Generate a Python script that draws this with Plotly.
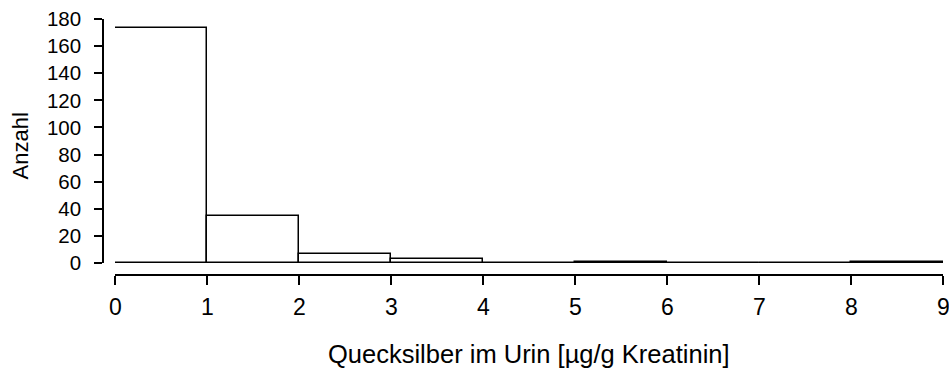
import plotly.graph_objects as go

# Histogram of urinary mercury, bins of 1 µg/g creatinine
bin_left = [0, 1, 2, 3, 4, 5, 6, 7, 8]
counts = [173, 35, 7, 3, 0, 1, 0, 0, 1]
x_ticks = [0, 1, 2, 3, 4, 5, 6, 7, 8, 9]
y_ticks = [0, 20, 40, 60, 80, 100, 120, 140, 160, 180]
x_title = "Quecksilber im Urin [µg/g Kreatinin]"
y_title = "Anzahl"

W, H = 949, 372
L, R, T, B = 103, 6, 19, 97
plot_w = W - L - R
plot_h = H - T - B
gap = 12  # offset between data area and axis lines

font = "Liberation Sans, Arial, sans-serif"

fig = go.Figure()
fig.add_trace(go.Bar(
    x=[b + 0.5 for b in bin_left],
    y=counts,
    width=[1] * len(bin_left),
    marker=dict(color="white", line=dict(color="black", width=1.5)),
    hoverinfo="x+y",
))

fig.add_shape(type="line", xref="x", yref="y", x0=0, x1=9, y0=0, y1=0,
              line=dict(color="black", width=1.5), layer="above")

# x tick labels as annotations so the last one may run to the page edge
annotations = [
    dict(text=str(v), xref="x", yref="paper", x=v, y=-32 / plot_h,
         xanchor="center", yanchor="middle", showarrow=False,
         font=dict(size=23))
    for v in x_ticks
]
annotations += [
    dict(text=x_title, xref="x", yref="paper", x=4.5, y=-79 / plot_h,
         xanchor="center", yanchor="middle", showarrow=False,
         font=dict(size=25.5)),
    dict(text=y_title, xref="paper", yref="paper", x=(19.5 - L) / plot_w,
         y=(plot_h - (146 - T)) / plot_h, textangle=-90,
         xanchor="center", yanchor="middle", showarrow=False,
         font=dict(size=22)),
]

fig.update_layout(
    width=W, height=H,
    margin=dict(l=L, r=R, t=T, b=B, pad=0, autoexpand=False),
    paper_bgcolor="white", plot_bgcolor="white",
    showlegend=False,
    bargap=0,
    font=dict(family=font, color="black", size=20),
    xaxis=dict(
        domain=[gap / plot_w, 1], range=[0, 9],
        anchor="free", position=0, automargin=False,
        tickmode="array", tickvals=x_ticks, showticklabels=False,
        ticks="outside", ticklen=9, tickwidth=1.5, tickcolor="black",
        showline=True, linecolor="black", linewidth=1.5,
        showgrid=False, zeroline=False,
    ),
    yaxis=dict(
        domain=[gap / plot_h, 1], range=[0, 180],
        anchor="free", position=0, automargin=False,
        tickmode="array", tickvals=y_ticks, ticktext=[str(v) for v in y_ticks],
        ticks="outside", ticklen=8, tickwidth=1.5, tickcolor="black",
        showline=True, linecolor="black", linewidth=1.5,
        showgrid=False, zeroline=False,
        tickfont=dict(size=20.5), ticklabelstandoff=9,
    ),
    annotations=annotations,
)

fig.write_html("out.html")
